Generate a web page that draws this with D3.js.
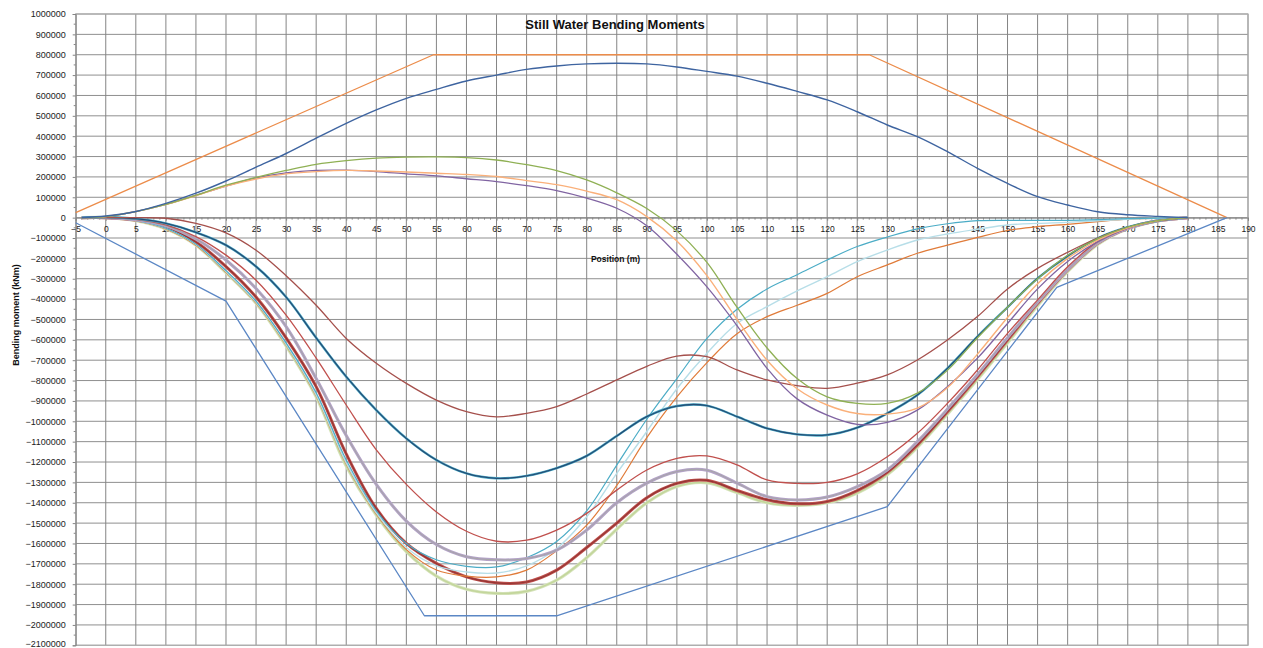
<!DOCTYPE html>
<html>
<head>
<meta charset="utf-8">
<script src="https://cdn.jsdelivr.net/npm/d3@7"></script>
<style>
  html, body { margin: 0; padding: 0; background: #ffffff; }
  svg { display: block; }
</style>
</head>
<body>
<svg id="chart" width="1263" height="648"></svg>
<script>
// ---------- data (bending moment in kNm) ----------
const positions = [-4, 0, 5, 10, 15, 20, 25, 30, 35, 40, 45, 50, 55, 60, 65, 70, 75, 80, 85, 90,
  95, 100, 105, 110, 115, 120, 125, 130, 135, 140, 145, 150, 155, 160, 165, 170, 175, 180];

const hogMain = [0, 8000, 30000, 70000, 120000, 180000, 248000, 315000, 390000, 463000,
  529000, 586000, 630000, 671000, 700000, 728000, 745000, 755000, 758000, 755000,
  740000, 718000, 695000, 660000, 620000, 578000, 520000, 455000, 398000, 324000,
  242000, 168000, 103000, 62000, 29000, 14000, 6000, 0];
const hogGreen = [0, 5000, 30000, 65000, 110000, 160000, 198000, 232000, 262000, 280000,
  292000, 297000, 298000, 295000, 283000, 260000, 231000, 185000, 122000, 45000,
  -65000, -220000, -440000, -640000, -790000, -880000, -912000, -912000, -862000, -750000,
  -590000, -440000, -300000, -185000, -103000, -47000, -15000, 0];
const hogPeach = [0, 5000, 30000, 65000, 108000, 155000, 190000, 215000, 226000, 232000,
  229000, 224000, 218000, 212000, 202000, 182000, 162000, 130000, 88000, 5000,
  -115000, -285000, -500000, -700000, -840000, -920000, -962000, -965000, -935000, -835000,
  -670000, -490000, -325000, -200000, -110000, -50000, -15000, 0];
const hogPurple = [0, 5000, 30000, 65000, 110000, 155000, 195000, 220000, 232000, 233000,
  226000, 215000, 205000, 191000, 177000, 157000, 133000, 96000, 46000, -40000,
  -180000, -340000, -530000, -740000, -890000, -970000, -1015000, -1005000, -945000, -830000,
  -690000, -520000, -350000, -215000, -118000, -52000, -15000, 0];

const sagA = [0, 0, 0, -3000, -28000, -75000, -160000, -285000, -430000, -593000,
  -715000, -814000, -896000, -953000, -978000, -961000, -928000, -866000, -797000, -730000,
  -680000, -683000, -748000, -797000, -825000, -838000, -813000, -772000, -699000, -601000,
  -486000, -350000, -249000, -170000, -100000, -48000, -16000, 0];
const sagB = [0, 2000, -5000, -28000, -72000, -135000, -240000, -390000, -590000, -781000,
  -945000, -1084000, -1190000, -1256000, -1280000, -1268000, -1230000, -1170000, -1072000, -977000,
  -925000, -923000, -977000, -1035000, -1064000, -1067000, -1031000, -961000, -871000, -740000,
  -584000, -440000, -298000, -188000, -101000, -47000, -15000, 0];
const sagC = [0, 0, -8000, -35000, -93000, -184000, -307000, -479000, -690000, -920000,
  -1140000, -1310000, -1445000, -1540000, -1589000, -1584000, -1534000, -1452000, -1338000, -1239000,
  -1182000, -1170000, -1214000, -1288000, -1305000, -1300000, -1258000, -1174000, -1059000, -912000,
  -748000, -568000, -404000, -241000, -118000, -52000, -15000, 0];
const sagD = [0, 0, -10000, -40000, -105000, -208000, -348000, -535000, -790000, -1070000,
  -1310000, -1490000, -1605000, -1665000, -1680000, -1674000, -1633000, -1534000, -1400000, -1304000,
  -1247000, -1240000, -1304000, -1370000, -1386000, -1372000, -1321000, -1239000, -1100000, -940000,
  -770000, -590000, -415000, -255000, -125000, -52000, -15000, 0];
const sagE = [0, 0, -12000, -48000, -120000, -240000, -390000, -590000, -830000, -1160000,
  -1428000, -1600000, -1698000, -1764000, -1793000, -1789000, -1731000, -1620000, -1500000, -1375000,
  -1305000, -1290000, -1340000, -1385000, -1405000, -1394000, -1340000, -1250000, -1116000, -953000,
  -781000, -601000, -421000, -257000, -126000, -52000, -15000, 0];
const sagF = [0, 0, -15000, -55000, -135000, -270000, -420000, -630000, -880000, -1220000,
  -1460000, -1640000, -1760000, -1825000, -1845000, -1835000, -1780000, -1670000, -1530000, -1400000,
  -1320000, -1302000, -1350000, -1400000, -1413000, -1400000, -1352000, -1262000, -1128000, -965000,
  -795000, -615000, -432000, -265000, -132000, -55000, -16000, 0];
const sagTeal = [0, 0, -14000, -52000, -130000, -260000, -410000, -615000, -860000, -1190000,
  -1440000, -1600000, -1680000, -1712000, -1715000, -1670000, -1590000, -1440000, -1215000, -990000,
  -790000, -593000, -450000, -350000, -280000, -208000, -142000, -95000, -55000, -30000,
  -15000, -13000, -13000, -13000, -10000, -5000, -2000, 0];
const sagLightBlue = [0, 0, -14000, -53000, -132000, -265000, -415000, -622000, -870000, -1205000,
  -1450000, -1620000, -1710000, -1740000, -1745000, -1710000, -1625000, -1469000, -1256000, -1050000,
  -840000, -666000, -520000, -437000, -360000, -290000, -216000, -159000, -110000, -80000,
  -57000, -36000, -28000, -23000, -15000, -8000, -3000, 0];
const sagBrown = [0, 0, -15000, -55000, -135000, -268000, -418000, -625000, -875000, -1210000,
  -1455000, -1630000, -1730000, -1760000, -1764000, -1731000, -1636000, -1510000, -1315000, -1080000,
  -880000, -712000, -570000, -486000, -430000, -372000, -290000, -232000, -175000, -135000,
  -97000, -63000, -44000, -33000, -20000, -8000, -3000, 0];

// permissible limits
const hogLimitPos = [-5, 54.5, 127, 186.5];
const hogLimitVal = [25000, 800000, 800000, 0];
const sagLimitPos = [-5, 20, 53, 75, 130, 158.2, 186.5];
const sagLimitVal = [-25000, -410000, -1955000, -1955000, -1419000, -342000, 0];

// axis ticks
const xTicks = d3.range(-5, 191, 5);
const yTicks = d3.range(-2100000, 1000001, 100000);

// ---------- layout ----------
const svg = d3.select("#chart");
const x = d3.scaleLinear().domain([-5, 190]).range([75.7, 1248]);
const y = d3.scaleLinear().domain([-2100000, 1000000]).range([645.3, 14]);

// gridlines
svg.append("g").selectAll("line").data(yTicks).join("line")
  .attr("x1", x(-5)).attr("x2", x(190))
  .attr("y1", d => y(d)).attr("y2", d => y(d))
  .attr("stroke", "#8f8f8f").attr("stroke-width", 1);
svg.append("g").selectAll("line").data(xTicks).join("line")
  .attr("y1", y(1000000)).attr("y2", y(-2100000))
  .attr("x1", d => x(d)).attr("x2", d => x(d))
  .attr("stroke", "#858585").attr("stroke-width", 1);
// plot border
svg.append("rect").attr("x", x(-5)).attr("y", y(1000000))
  .attr("width", x(190) - x(-5)).attr("height", y(-2100000) - y(1000000))
  .attr("fill", "none").attr("stroke", "#b0b0b0").attr("stroke-width", 1.2);

// y axis
const yAxis = d3.axisLeft(y).tickValues(yTicks).tickFormat(d3.format("d")).tickSize(3);
const gy = svg.append("g").attr("transform", `translate(${x(-5)},0)`).call(yAxis);
gy.select(".domain").attr("stroke", "#868686");
gy.selectAll(".tick line").attr("stroke", "#868686");
gy.selectAll("text").attr("font-family", "Liberation Sans, Arial, sans-serif")
  .attr("font-size", 9).attr("fill", "#222").attr("x", -10)
  .attr("dy", d => d === -2100000 ? "0.1em" : "0.32em");
// minor y ticks
const yMinor = d3.range(-2050000, 1000000, 100000);
svg.append("g").selectAll("line").data(yMinor).join("line")
  .attr("x1", x(-5) - 2).attr("x2", x(-5))
  .attr("y1", d => y(d)).attr("y2", d => y(d))
  .attr("stroke", "#868686");

// x axis at zero
const xAxis = d3.axisBottom(x).tickValues(xTicks).tickFormat(d3.format("d")).tickSize(3);
const gx = svg.append("g").attr("transform", `translate(0,${y(0)})`).call(xAxis);
gx.select(".domain").attr("stroke", "#868686");
gx.selectAll(".tick line").attr("stroke", "#868686");
gx.selectAll("text").attr("font-family", "Liberation Sans, Arial, sans-serif")
  .attr("font-size", 8.5).attr("fill", "#222").attr("y", 8);
const xMinor = d3.range(-4, 190, 1).filter(v => v % 5 !== 0);
svg.append("g").selectAll("line").data(xMinor).join("line")
  .attr("x1", d => x(d)).attr("x2", d => x(d))
  .attr("y1", y(0)).attr("y2", y(0) + 2)
  .attr("stroke", "#868686");

// ---------- series ----------
const line = d3.line().x(d => x(d[0])).y(d => y(d[1])).curve(d3.curveCatmullRom.alpha(0.5));
const lineLin = d3.line().x(d => x(d[0])).y(d => y(d[1]));

const series = [
  { vals: sagF, color: "#d7e4bd", w: 3.2 },
  { vals: sagF, color: "#c3d69b", w: 1.6 },
  { vals: sagE, color: "#c0504d", w: 3.0 },
  { vals: sagE, color: "#943634", w: 1.2 },
  { vals: sagBrown, color: "#e07b39", w: 1.2 },
  { vals: sagLightBlue, color: "#b7dee8", w: 1.4 },
  { vals: sagTeal, color: "#4bacc6", w: 1.2 },
  { vals: sagD, color: "#b3a2c7", w: 3.0 },
  { vals: sagD, color: "#a6a6a6", w: 1.0 },
  { vals: sagC, color: "#c0504d", w: 1.3 },
  { vals: sagB, color: "#4bacc6", w: 2.4 },
  { vals: sagB, color: "#254e77", w: 1.3 },
  { vals: sagA, color: "#a5504c", w: 1.3 },
  { vals: hogPurple, color: "#8064a2", w: 1.3 },
  { vals: hogPeach, color: "#fab07a", w: 1.4 },
  { vals: hogGreen, color: "#8fb054", w: 1.3 },
  { vals: hogMain, color: "#3e64a0", w: 1.4 }
];

const gs = svg.append("g").attr("fill", "none").attr("stroke-linejoin", "round");
series.forEach(s => {
  gs.append("path")
    .datum(positions.map((p, i) => [p, s.vals[i]]))
    .attr("d", line)
    .attr("stroke", s.color).attr("stroke-width", s.w);
});
gs.append("path").datum(hogLimitPos.map((p, i) => [p, hogLimitVal[i]]))
  .attr("d", lineLin).attr("stroke", "#ec8c4a").attr("stroke-width", 1.3);
gs.append("path").datum(sagLimitPos.map((p, i) => [p, sagLimitVal[i]]))
  .attr("d", lineLin).attr("stroke", "#5b87c5").attr("stroke-width", 1.3);

// ---------- titles ----------
svg.append("text").attr("x", 615).attr("y", 28.5).attr("text-anchor", "middle")
  .attr("font-family", "Liberation Sans, Arial, sans-serif").attr("font-weight", "bold")
  .attr("font-size", 13).attr("fill", "#111").text("Still Water Bending Moments");
svg.append("text").attr("x", 615.5).attr("y", 261.5).attr("text-anchor", "middle")
  .attr("font-family", "Liberation Sans, Arial, sans-serif").attr("font-weight", "bold")
  .attr("font-size", 8.5).attr("fill", "#111").text("Position (m)");
svg.append("text").attr("transform", "translate(19,315) rotate(-90)").attr("text-anchor", "middle")
  .attr("font-family", "Liberation Sans, Arial, sans-serif").attr("font-weight", "bold")
  .attr("font-size", 9).attr("fill", "#111").text("Bending moment (kNm)");
</script>
</body>
</html>
